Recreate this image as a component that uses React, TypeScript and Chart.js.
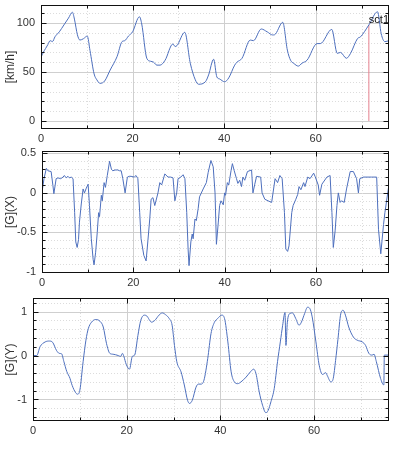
import React, { useEffect, useRef } from 'react';
import { Chart, registerables } from 'chart.js';

Chart.register(...registerables);

// ---------- data ----------
const xTicks = [0, 20, 40, 60];

const speedX = [0, 0.5, 1.0, 1.5, 2.0, 2.5, 3.06, 4, 5, 6, 6.86, 7.3, 7.95, 8.5, 9.27, 10.1, 10.7, 11.6, 12.2, 12.9, 13.9, 15.1, 16.6, 17.7, 18.3, 19.1, 20, 21.5, 22.0, 23.1, 23.9, 24.6, 25.3, 26.0, 27.1, 28.8, 29.3, 29.7, 31.4, 32.6, 33.7, 34.4, 35.9, 36.6, 37.7, 38.4, 39.0, 40.1, 41.0, 42.3, 42.8, 43.9, 45.7, 46.4, 48.1, 49.4, 50.6, 51.0, 52.8, 53.8, 54.5, 55.2, 56.2, 57.0, 58.1, 60.3, 61.0, 63.5, 64.7, 65.4, 66.7, 67.6, 69.1, 69.8, 71.6, 73.5, 74.3, 75.1, 76];
const speedY = [65, 70, 74, 78, 82, 81, 86, 91, 98, 105, 111, 104, 88, 82.6, 84, 86.7, 72, 48, 42, 38.4, 40.8, 52, 65.6, 81, 82, 86.7, 91, 106.4, 99, 64, 61, 60, 57, 57, 62, 78.6, 76, 77, 90.5, 59, 42, 37.5, 40, 47, 63, 45, 42.9, 40, 44, 57, 60, 64, 82.6, 82, 93.9, 91, 87.8, 88, 100.7, 72.4, 62, 58.8, 56, 59, 62, 79, 79, 93.5, 69, 70, 64, 69, 84, 86, 98, 111.5, 89, 81, 82];
const speedTicks = [0, 50, 100];

const gxX = [0, 0.44, 0.95, 1.3, 2.0, 2.4, 2.6, 3.1, 3.5, 4.1, 4.6, 4.9, 5.3, 5.7, 6.0, 6.4, 6.8, 7.15, 7.4, 7.7, 8.0, 8.2, 8.6, 9.0, 9.3, 9.7, 10.1, 10.4, 10.8, 11.2, 11.4, 11.75, 12.1, 12.4, 12.6, 13.0, 13.2, 13.6, 13.9, 14.3, 14.8, 15.2, 15.5, 16.0, 16.6, 17.0, 17.35, 17.7, 18.2, 18.7, 19.1, 19.5, 20.2, 20.6, 21.0, 21.4, 21.7, 22.3, 22.8, 23.2, 23.6, 23.9, 24.3, 24.7, 25.4, 25.8, 26.2, 26.9, 27.6, 28.2, 28.7, 29.1, 29.5, 29.8, 30.4, 30.9, 31.3, 31.7, 32.0, 32.2, 32.6, 32.9, 33.1, 33.5, 33.8, 34.2, 34.5, 35.3, 36.0, 36.4, 37.0, 37.5, 37.9, 38.2, 38.6, 38.9, 39.2, 39.7, 40.0, 40.2, 40.6, 40.9, 41.4, 41.7, 42.1, 42.6, 42.9, 43.3, 43.7, 44.0, 44.4, 45.0, 45.9, 46.2, 46.6, 47.0, 47.9, 48.2, 48.8, 49.5, 50.3, 51.05, 51.6, 52.1, 52.6, 53.1, 53.4, 53.8, 54.1, 54.7, 55.0, 55.6, 56.0, 56.3, 56.7, 57.3, 57.6, 58.2, 58.7, 59.5, 59.8, 60.5, 60.8, 61.3, 62.4, 63.1, 63.5, 63.8, 64.2, 64.6, 64.9, 65.3, 65.6, 66.2, 66.7, 67.5, 68.2, 68.9, 69.3, 69.6, 70.4, 72.2, 73.3, 73.7, 74.2, 74.8, 75.1, 75.9];
const gxY = [0.01, 0.18, 0.31, 0.28, 0.27, 0.09, -0.01, 0.18, 0.19, 0.18, 0.2, 0.22, 0.19, 0.21, 0.19, 0.2, 0.18, -0.25, -0.62, -0.69, -0.59, -0.37, -0.14, 0.05, 0.0, 0.06, 0.11, -0.16, -0.58, -0.84, -0.91, -0.75, -0.5, -0.25, -0.3, -0.03, -0.1, 0.13, 0.07, 0.22, 0.4, 0.3, 0.28, 0.29, 0.29, 0.28, 0.28, 0.18, 0.0, 0.2, 0.21, 0.21, 0.2, 0.22, 0.18, -0.25, -0.58, -0.79, -0.86, -0.6, -0.33, -0.08, -0.06, -0.16, 0.0, 0.13, 0.1, 0.24, 0.2, 0.2, 0.19, -0.1, 0.0, 0.18, 0.2, 0.23, 0.18, -0.25, -0.71, -0.92, -0.62, -0.52, -0.58, -0.33, -0.35, -0.2, -0.05, 0.05, 0.13, 0.26, 0.41, 0.33, 0.0, -0.65, -0.38, -0.16, -0.1, -0.15, 0.0, -0.03, 0.13, 0.1, 0.28, 0.37, 0.28, 0.18, 0.12, 0.16, 0.08, 0.2, 0.16, 0.27, 0.29, 0.0, 0.11, 0.21, 0.2, 0.0, -0.08, -0.1, -0.12, 0.18, 0.13, 0.22, 0.18, -0.25, -0.71, -0.74, -0.67, -0.25, -0.16, -0.08, -0.02, 0.08, 0.04, 0.13, 0.08, 0.2, 0.18, 0.25, 0.21, 0.1, -0.03, 0.11, 0.2, 0.22, -0.25, -0.69, -0.48, -0.16, 0.0, -0.12, -0.1, -0.12, 0.05, 0.27, 0.27, 0.18, 0.0, 0.18, 0.2, 0.2, 0.2, -0.46, -0.77, -0.4, -0.25, 0.07];
const gxTicks = [-1, -0.5, 0, 0.5];

const gyX = [0, 0.8, 1.5, 2.6, 3.5, 4.2, 5.0, 5.6, 6.1, 6.6, 7.2, 7.9, 8.2, 8.9, 9.5, 10.0, 10.7, 11.3, 11.8, 12.5, 13.4, 14.3, 15.0, 15.7, 16.4, 17.1, 18.2, 18.7, 19.1, 19.4, 19.9, 20.6, 21.2, 21.7, 22.4, 23.0, 23.8, 24.3, 25.3, 26.0, 26.9, 27.6, 28.3, 29.1, 29.7, 30.2, 30.7, 31.6, 32.3, 33.0, 33.4, 34.0, 34.8, 35.3, 35.9, 36.5, 37.3, 38.0, 38.7, 39.4, 40.3, 40.9, 41.6, 42.3, 43.0, 43.7, 44.4, 45.5, 46.5, 47.1, 47.6, 48.3, 49.0, 49.7, 50.2, 50.8, 51.5, 52.2, 52.8, 53.3, 53.8, 54.0, 54.3, 54.9, 55.4, 56.1, 56.8, 57.3, 58.0, 58.6, 59.1, 59.6, 60.4, 61.1, 61.8, 62.5, 62.8, 63.6, 64.1, 64.6, 65.1, 65.7, 66.2, 66.7, 67.4, 68.4, 69.2, 70.3, 71.0, 71.7, 72.4, 72.8, 73.3, 74.2, 74.9, 75.0, 76.0];
const gyY = [0, 0, 0.2, 0.31, 0.33, 0.3, 0.12, 0.05, 0.04, -0.14, -0.36, -0.52, -0.63, -0.81, -0.88, -0.79, -0.14, 0.35, 0.61, 0.76, 0.82, 0.78, 0.65, 0.27, 0.05, 0.03, 0.0, -0.02, 0.05, -0.02, -0.2, -0.31, -0.02, 0.01, 0.46, 0.8, 0.92, 0.9, 0.76, 0.8, 0.92, 0.97, 0.93, 0.84, 0.69, 0.23, -0.14, -0.37, -0.67, -1.02, -1.09, -1.02, -0.72, -0.65, -0.65, -0.56, -0.07, 0.5, 0.75, 0.84, 0.92, 0.84, 0.31, -0.37, -0.6, -0.64, -0.6, -0.49, -0.36, -0.31, -0.41, -0.83, -1.13, -1.3, -1.25, -1.05, -0.75, -0.14, 0.31, 0.69, 0.98, 0.23, 0.76, 0.96, 0.97, 0.84, 0.69, 0.76, 0.96, 1.1, 1.07, 0.88, 0.31, -0.22, -0.43, -0.39, -0.45, -0.6, -0.52, -0.11, 0.37, 0.95, 1.03, 0.92, 0.65, 0.42, 0.35, 0.31, 0.23, 0.05, 0.01, 0.03, -0.14, -0.52, -0.67, 0.01, 0.01];
const gyTicks = [-1, 0, 1];

const markerX = [71.6];
const markerTop = [98];
const markerLabel = ['sct1'];

// ---------- layout ----------
const FONT = "'Liberation Sans', Arial, sans-serif";
const LINE_COLOR = '#4d6fbd';

type Panel = {
  top: number; height: number; plotLeft: number; plotTop: number; plotBottom: number;
  yMin: number; yMax: number; yTicks: number[]; yMinor: number; title: string;
  xs: number[]; ys: number[]; smooth: boolean; marker: boolean;
};

const panels: Panel[] = [
  { top: 0, height: 148, plotLeft: 41, plotTop: 5, plotBottom: 129, yMin: -8.2, yMax: 118.4, yTicks: speedTicks, yMinor: 10, title: '[km/h]', xs: speedX, ys: speedY, smooth: true, marker: true },
  { top: 148, height: 148, plotLeft: 42, plotTop: 3, plotBottom: 125, yMin: -1.013, yMax: 0.53, yTicks: gxTicks, yMinor: 0.1, title: '[G](X)', xs: gxX, ys: gxY, smooth: false, marker: false },
  { top: 296, height: 154, plotLeft: 33, plotTop: 2, plotBottom: 125, yMin: -1.49, yMax: 1.31, yTicks: gyTicks, yMinor: 0.2, title: '[G](Y)', xs: gyX, ys: gyY, smooth: true, marker: false },
];

const X_MIN = 0, X_MAX = 76, X_MINOR = 10, PLOT_RIGHT = 389, W = 395;

function isMajor(v: number, list: number[]) {
  return list.some((t) => Math.abs(t - v) < 1e-6);
}
function steps(min: number, max: number, step: number) {
  const out: number[] = [];
  const s = Math.ceil(min / step - 1e-9);
  const e = Math.floor(max / step + 1e-9);
  for (let i = s; i <= e; i++) out.push(+(i * step).toFixed(6));
  return out;
}

function makePlugin(p: Panel) {
  return {
    id: 'frameGrid',
    beforeDatasetsDraw(chart: any) {
      const { ctx, chartArea: a, scales } = chart;
      const xs = scales.x, ys = scales.y;
      ctx.save();
      ctx.lineWidth = 1;
      for (const v of steps(p.yMin, p.yMax, p.yMinor)) {
        const y = Math.round(ys.getPixelForValue(v)) + 0.5;
        const maj = isMajor(v, p.yTicks);
        ctx.strokeStyle = maj ? '#cfcfcf' : '#dcdcdc';
        ctx.setLineDash(maj ? [] : [1, 2]);
        ctx.beginPath(); ctx.moveTo(a.left, y); ctx.lineTo(a.right, y); ctx.stroke();
      }
      for (const v of steps(X_MIN, X_MAX, X_MINOR)) {
        const x = Math.round(xs.getPixelForValue(v)) + 0.5;
        const maj = isMajor(v, xTicks);
        ctx.strokeStyle = maj ? '#cfcfcf' : '#dcdcdc';
        ctx.setLineDash(maj ? [] : [1, 2]);
        ctx.beginPath(); ctx.moveTo(x, a.top); ctx.lineTo(x, a.bottom); ctx.stroke();
      }
      ctx.restore();
    },
    afterDatasetsDraw(chart: any) {
      const { ctx, chartArea: a, scales } = chart;
      const xs = scales.x, ys = scales.y;
      ctx.save();
      ctx.setLineDash([]);
      ctx.strokeStyle = '#111';
      ctx.lineWidth = 1;
      const L = Math.round(a.left) + 0.5, R = Math.round(a.right) - 0.5;
      const T = Math.round(a.top) + 0.5, B = Math.round(a.bottom) - 0.5;
      ctx.strokeRect(L, T, R - L, B - T);
      ctx.beginPath();
      for (const v of steps(p.yMin, p.yMax, p.yMinor)) {
        const y = Math.round(ys.getPixelForValue(v)) + 0.5;
        const len = isMajor(v, p.yTicks) ? 5 : 3;
        ctx.moveTo(L, y); ctx.lineTo(L + len, y);
        ctx.moveTo(R, y); ctx.lineTo(R - len, y);
      }
      for (const v of steps(X_MIN, X_MAX, X_MINOR)) {
        const x = Math.round(xs.getPixelForValue(v)) + 0.5;
        const len = isMajor(v, xTicks) ? 5 : 3;
        ctx.moveTo(x, T); ctx.lineTo(x, T + len);
        ctx.moveTo(x, B); ctx.lineTo(x, B - len);
      }
      ctx.stroke();
      if (p.marker) {
        ctx.fillStyle = '#111';
        ctx.font = `11px ${FONT}`;
        ctx.textAlign = 'left';
        ctx.textBaseline = 'middle';
        markerX.forEach((mx, i) => {
          const px = xs.getPixelForValue(mx);
          const py = ys.getPixelForValue(markerTop[i] + 5);
          ctx.fillText(markerLabel[i], px, py);
        });
      }
      ctx.restore();
    },
  };
}

function PanelChart({ p }: { p: Panel }) {
  const ref = useRef<HTMLCanvasElement | null>(null);
  useEffect(() => {
    if (!ref.current) return;
    const datasets: any[] = [
      {
        data: p.xs.map((x, i) => ({ x, y: p.ys[i] })),
        borderColor: LINE_COLOR,
        borderWidth: 1,
        pointRadius: 0,
        fill: false,
        cubicInterpolationMode: p.smooth ? 'monotone' : 'default',
        tension: 0,
      },
    ];
    if (p.marker) {
      markerX.forEach((mx, i) => {
        datasets.push({
          data: [{ x: mx, y: 0 }, { x: mx, y: markerTop[i] }],
          borderColor: '#e6808f',
          borderWidth: 1,
          pointRadius: 0,
          fill: false,
        });
      });
    }
    const chart = new Chart(ref.current, {
      type: 'line',
      data: { datasets },
      plugins: [makePlugin(p)],
      options: {
        animation: false,
        responsive: false,
        devicePixelRatio: 1,
        layout: { padding: { top: p.plotTop, right: W - PLOT_RIGHT, left: 0, bottom: 0 } },
        plugins: { legend: { display: false }, tooltip: { enabled: false } },
        scales: {
          x: {
            type: 'linear',
            min: X_MIN,
            max: X_MAX,
            grid: { display: false, drawTicks: false },
            border: { display: false },
            ticks: { padding: 3, color: '#333', font: { family: FONT, size: 11 }, maxRotation: 0, autoSkip: false, callback: (v: any) => String(v) },
            afterBuildTicks: (s: any) => { s.ticks = xTicks.map((v) => ({ value: v })); },
            afterFit: (s: any) => { s.height = p.height - p.plotBottom; s.paddingLeft = 0; s.paddingRight = 0; },
          },
          y: {
            type: 'linear',
            min: p.yMin,
            max: p.yMax,
            grid: { display: false, drawTicks: false },
            border: { display: false },
            ticks: { padding: 6, color: '#333', font: { family: FONT, size: 11 }, callback: (v: any) => String(v) },
            title: { display: true, text: p.title, color: '#333', font: { family: FONT, size: 12 }, padding: { top: 3, bottom: 0 } },
            afterBuildTicks: (s: any) => { s.ticks = p.yTicks.map((v) => ({ value: v })); },
            afterFit: (s: any) => { s.width = p.plotLeft; s.paddingTop = 0; s.paddingBottom = 0; },
          },
        },
      } as any,
    });
    return () => chart.destroy();
  }, [p]);
  return (
    <canvas
      ref={ref}
      width={W}
      height={p.height}
      style={{ position: 'absolute', left: 0, top: p.top, width: W, height: p.height, display: 'block' }}
    />
  );
}

export default function App() {
  return (
    <div style={{ position: 'absolute', left: 0, top: 0, width: W, height: 450, background: '#fff' }}>
      {panels.map((p, i) => (
        <PanelChart key={i} p={p} />
      ))}
    </div>
  );
}
